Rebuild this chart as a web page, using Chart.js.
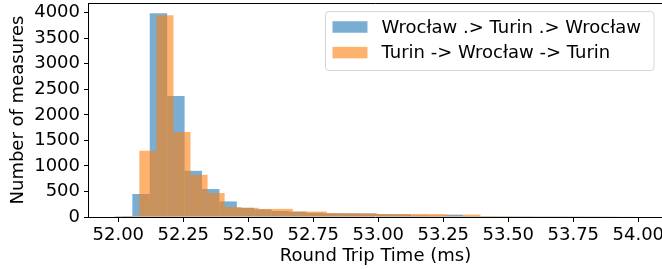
<!DOCTYPE html>
<html>
<head>
<meta charset="utf-8">
<script src="https://cdn.jsdelivr.net/npm/chart.js@4/dist/chart.umd.min.js"></script>
<style>
  body { margin: 0; background: #fff; }
  #wrap { width: 662px; height: 269px; }
</style>
</head>
<body>
<div id="wrap"><canvas id="rtt-hist"></canvas></div>
<script>
// Datas
const seriesLabels = ['Wrocław .> Turin .> Wrocław', 'Turin -> Wrocław -> Turin'];
const binCount = 30;
const wroclawRange = [51.987, 53.997];
const turinRange = [52.0154, 53.983];
const wroclawCounts = [20, 450, 3990, 2370, 904, 547, 305, 180, 150, 118, 105, 82, 74, 72, 70, 56, 54, 32, 30, 46, 20, 18, 17, 16, 15, 15, 14, 14, 13, 12];
const turinCounts = [20, 1295, 3950, 1666, 826, 469, 195, 180, 158, 160, 107, 107, 74, 72, 70, 56, 55, 60, 58, 28, 46, 18, 17, 16, 15, 15, 14, 13, 12, 10];
const xTicks = [52.00, 52.25, 52.50, 52.75, 53.00, 53.25, 53.50, 53.75, 54.00];
const yTicks = [0, 500, 1000, 1500, 2000, 2500, 3000, 3500, 4000];

// bins -> points at bin centres
function histPoints(range, counts) {
  const w = (range[1] - range[0]) / binCount;
  return counts.map((c, i) => ({ x: range[0] + w * (i + 0.5), y: c }));
}

const font = { family: 'DejaVu Sans', size: 18, lineHeight: 1.2 };

const data = {
  datasets: [{
    label: seriesLabels[0],
    data: histPoints(wroclawRange, wroclawCounts),
    backgroundColor: 'rgba(31,119,180,0.6)',
    xAxisID: 'x',
    order: 2
  }, {
    label: seriesLabels[1],
    data: histPoints(turinRange, turinCounts),
    backgroundColor: 'rgba(255,127,14,0.6)',
    xAxisID: 'x2',
    order: 1
  }]
};

// Spines (top, left, bottom) like matplotlib
const frame = {
  id: 'frame',
  afterDatasetsDraw(chart) {
    const { ctx, chartArea: a } = chart;
    ctx.save();
    ctx.strokeStyle = '#000';
    ctx.lineWidth = 1;
    ctx.beginPath();
    ctx.moveTo(Math.round(a.left) - 0.5, Math.round(a.top) + 0.5);
    ctx.lineTo(a.right + 2, Math.round(a.top) + 0.5);
    ctx.moveTo(Math.round(a.left) - 0.5, Math.round(a.top));
    ctx.lineTo(Math.round(a.left) - 0.5, Math.round(a.bottom) + 1);
    ctx.moveTo(Math.round(a.left) - 1, Math.round(a.bottom) + 0.5);
    ctx.lineTo(a.right + 2, Math.round(a.bottom) + 0.5);
    ctx.stroke();
    ctx.restore();
  }
};

// Legend box in upper right of the axes
const legendBox = {
  id: 'legendBox',
  afterDraw(chart) {
    const { ctx, chartArea: a } = chart;
    const sets = chart.data.datasets;
    ctx.save();
    ctx.font = font.size + 'px "' + font.family + '"';
    const textW = Math.max(...sets.map(d => ctx.measureText(d.label).width));
    const w = 7 + 35 + 14 + textW + 13;
    const h = 59;
    const x = a.right - 8 - w;
    const y = a.top + 8.5;
    const r = 3.5;
    ctx.beginPath();
    ctx.moveTo(x + r, y);
    ctx.arcTo(x + w, y, x + w, y + h, r);
    ctx.arcTo(x + w, y + h, x, y + h, r);
    ctx.arcTo(x, y + h, x, y, r);
    ctx.arcTo(x, y, x + w, y, r);
    ctx.closePath();
    ctx.fillStyle = 'rgba(255,255,255,0.8)';
    ctx.fill();
    ctx.strokeStyle = 'rgba(204,204,204,0.8)';
    ctx.lineWidth = 1;
    ctx.stroke();
    sets.forEach((d, i) => {
      const cy = y + 15.5 + i * 25.6;
      ctx.fillStyle = d.backgroundColor;
      ctx.fillRect(x + 7, cy - 5.75, 35, 11.5);
      ctx.fillStyle = '#000';
      ctx.textBaseline = 'middle';
      ctx.textAlign = 'left';
      ctx.fillText(d.label, x + 56, cy + 1);
    });
    ctx.restore();
  }
};

const tickMarks = { display: true, offset: false, drawOnChartArea: false, drawTicks: true, tickLength: 5, color: '#000', lineWidth: 1 };

const options = {
  responsive: true,
  maintainAspectRatio: false,
  animation: false,
  layout: { padding: { top: 3, right: 0, bottom: 0, left: 0 } },
  datasets: {
    bar: { grouped: false, barPercentage: 1, categoryPercentage: 1, borderWidth: 0, inflateAmount: 0 }
  },
  scales: {
    x: {
      type: 'linear',
      offset: false,
      min: 51.8873,
      max: 54.0912,
      grid: tickMarks,
      border: { display: false },
      ticks: {
        color: '#000', font: font, padding: 3, maxRotation: 0, includeBounds: false,
        callback: v => v.toFixed(2)
      },
      afterBuildTicks: s => { s.ticks = xTicks.map(v => ({ value: v })); },
      afterFit: s => { s.height = 52; s.paddingLeft = 0; s.paddingRight = 0; },
      title: { display: true, text: 'Round Trip Time (ms)', color: '#000', font: font, padding: { top: 0, bottom: 1.5 } }
    },
    x2: {
      type: 'linear',
      display: false,
      offset: false,
      min: 51.8873,
      max: 54.0912
    },
    y: {
      min: 0,
      max: 4190,
      grid: tickMarks,
      border: { display: false },
      ticks: { color: '#000', font: font, padding: 4, callback: v => String(v) },
      afterBuildTicks: s => { s.ticks = yTicks.map(v => ({ value: v })); },
      afterFit: s => { s.width = 89; s.paddingTop = 0; s.paddingBottom = 0; },
      title: { display: true, text: 'Number of measures', color: '#000', font: font, padding: { top: 8, bottom: 0 } }
    }
  },
  plugins: {
    legend: { display: false },
    tooltip: { enabled: false }
  }
};

// Initialisation
const ctx = document.getElementById('rtt-hist').getContext('2d');
const rttChart = new Chart(ctx, {
  type: 'bar',
  data: data,
  options: options,
  plugins: [frame, legendBox]
});
</script>
</body>
</html>
